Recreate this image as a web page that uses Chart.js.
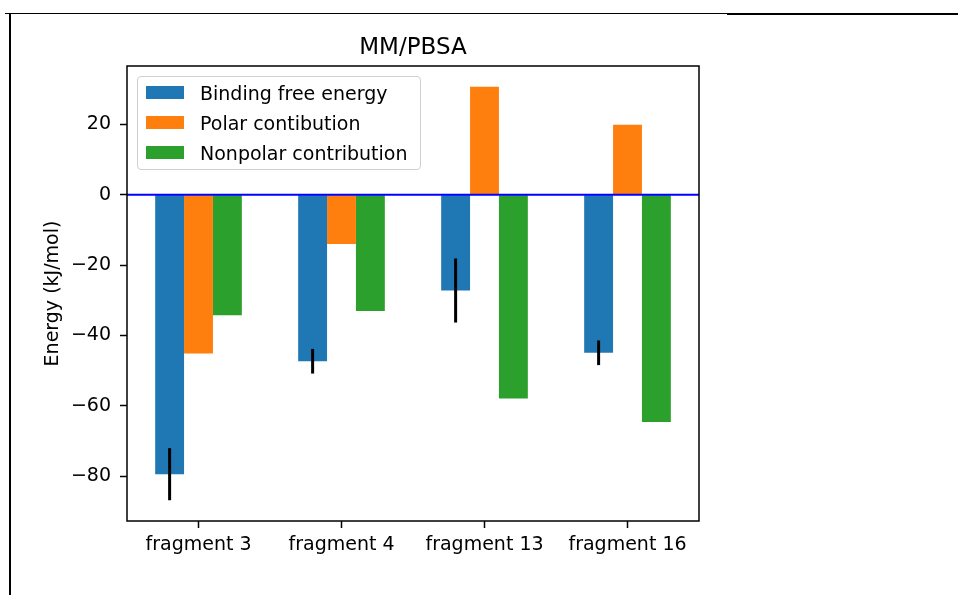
<!DOCTYPE html>
<html>
<head>
<meta charset="utf-8">
<script src="https://cdn.jsdelivr.net/npm/chart.js@4"></script>
<style>
  body { margin: 0; background: #fff; }
  #wrap { position: relative; width: 958px; height: 595px; overflow: hidden; font-family: 'DejaVu Sans', sans-serif; }
  #wrap canvas { position: absolute; left: 0; top: 0; }
  .edge { position: absolute; background: #000; }
  #titre { position: absolute; left: 313px; width: 200px; top: 35px; text-align: center; font-size: 23px; line-height: 23px; color: #000; }
  #legende { position: absolute; left: 137px; top: 76px; width: 282px; height: 92px; border: 1px solid #d0d0d0; border-radius: 4px; background: rgba(255,255,255,0.8); }
  .item { position: absolute; left: 0; height: 20px; font-size: 19px; line-height: 20px; color: #000; white-space: nowrap; }
  .item span.sw { position: absolute; left: 8px; top: 3px; width: 38px; height: 13px; }
  .item span.txt { position: absolute; left: 62px; top: 0; }
</style>
</head>
<body>
<div id="wrap">
  <canvas id="graphe" width="958" height="595"></canvas>
  <div class="edge" style="left:9px; top:13px; width:2px; height:582px;"></div>
  <div class="edge" style="left:5px; top:13px; width:722px; height:1px;"></div>
  <div class="edge" style="left:727px; top:13px; width:231px; height:2px;"></div>
  <div id="titre">MM/PBSA</div>
  <div id="legende"></div>
</div>
<script>
// données (kJ/mol)
const fragments = ['fragment 3', 'fragment 4', 'fragment 13', 'fragment 16'];
const bindingEnergy = [-79.4, -47.3, -27.2, -44.9];
const bindingErr = [7.4, 3.5, 9.1, 3.5];
const polarContrib = [-45.1, -14.0, 30.7, 19.9];
const nonpolarContrib = [-34.2, -33.0, -57.9, -64.6];
const yTicks = [-80, -60, -40, -20, 0, 20];

const seriesNames = ['Binding free energy', 'Polar contibution', 'Nonpolar contribution'];
const seriesColors = ['#1f77b4', '#ff7f0e', '#2ca02c'];

Chart.defaults.font.family = "'DejaVu Sans', sans-serif";
Chart.defaults.color = '#000';

// légende dans le cadre, comme matplotlib
function construireLegende() {
    const box = document.getElementById('legende');
    seriesNames.forEach((nom, i) => {
        box.insertAdjacentHTML('beforeend',
            `<div class="item" style="top:${6 + i * 30}px"><span class="sw" style="background:${seriesColors[i]}"></span><span class="txt">${nom}</span></div>`);
    });
}

// cadre, ligne du zéro et barres d'erreur
const decorations = {
    id: 'decorations',
    afterDatasetsDraw(chart) {
        const ctx = chart.ctx;
        const area = chart.chartArea;
        const y = chart.scales.y;
        ctx.save();
        // barres d'erreur sur l'énergie de liaison
        ctx.strokeStyle = '#000';
        ctx.lineWidth = 3;
        chart.getDatasetMeta(0).data.forEach((bar, i) => {
            ctx.beginPath();
            ctx.moveTo(bar.x, y.getPixelForValue(bindingEnergy[i] + bindingErr[i]));
            ctx.lineTo(bar.x, y.getPixelForValue(bindingEnergy[i] - bindingErr[i]));
            ctx.stroke();
        });
        // axhline bleue
        const y0 = y.getPixelForValue(0);
        ctx.strokeStyle = '#0000ff';
        ctx.lineWidth = 2;
        ctx.beginPath();
        ctx.moveTo(area.left, y0);
        ctx.lineTo(area.right, y0);
        ctx.stroke();
        // cadre
        ctx.strokeStyle = '#000';
        ctx.lineWidth = 1.5;
        ctx.strokeRect(area.left, area.top, area.right - area.left, area.bottom - area.top);
        ctx.restore();
    }
};

function afficherGraphique() {
    const ctx = document.getElementById('graphe').getContext('2d');
    new Chart(ctx, {
        type: 'bar',
        data: {
            labels: fragments,
            datasets: [
                { label: seriesNames[0], data: bindingEnergy, backgroundColor: seriesColors[0] },
                { label: seriesNames[1], data: polarContrib, backgroundColor: seriesColors[1] },
                { label: seriesNames[2], data: nonpolarContrib, backgroundColor: seriesColors[2] }
            ]
        },
        options: {
            responsive: false,
            animation: false,
            datasets: {
                bar: { categoryPercentage: 0.606, barPercentage: 1.0 }
            },
            layout: {
                padding: { left: 38, right: 259, top: 66, bottom: 24 }
            },
            scales: {
                x: {
                    grid: { offset: false, drawOnChartArea: false, drawTicks: true, tickLength: 7, tickColor: '#000', tickWidth: 1.5 },
                    border: { display: false },
                    ticks: { font: { size: 19 }, padding: 6, color: '#000', maxRotation: 0 },
                    afterFit: scale => { scale.height = 50; }
                },
                y: {
                    min: -92.7,
                    max: 36.6,
                    afterBuildTicks: scale => { scale.ticks = yTicks.map(v => ({ value: v })); },
                    grid: { drawOnChartArea: false, drawTicks: true, tickLength: 7, tickColor: '#000', tickWidth: 1.5 },
                    border: { display: false },
                    ticks: {
                        font: { size: 19 },
                        padding: 9,
                        color: '#000',
                        callback: v => (v < 0 ? '\u2212' + Math.abs(v) : String(v))
                    },
                    title: {
                        display: true,
                        text: 'Energy (kJ/mol)',
                        font: { size: 19 },
                        color: '#000',
                        padding: { top: 4, bottom: 4 }
                    },
                    afterFit: scale => { scale.width = 89; }
                }
            },
            plugins: {
                legend: { display: false },
                tooltip: { enabled: false }
            }
        },
        plugins: [decorations]
    });
}

document.addEventListener('DOMContentLoaded', () => {
    construireLegende();
    afficherGraphique();
});
</script>
</body>
</html>
